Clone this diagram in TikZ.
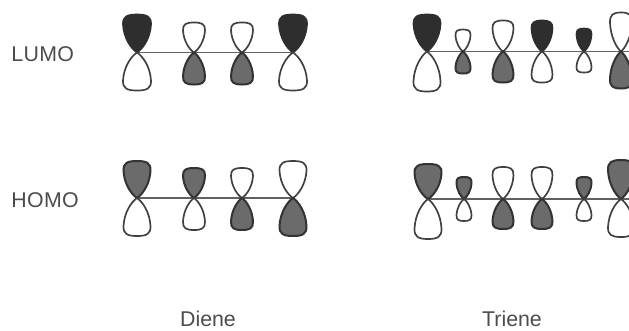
\documentclass[tikz,border=0pt]{standalone}
\usepackage{fontspec}
\setmainfont{Liberation Sans}
\colorlet{inkc}{black!75}
\tikzset{
  x=0.75pt,y=-0.75pt,
  open/.style={draw=inkc,line width=1.25pt,fill=white},
  dark/.style={draw=black!82,line width=1.25pt,fill=black!82},
  dots/.style={draw=black!80,line width=1.5pt,fill=black!58},
  axis/.style={draw=black!62,line width=1pt},
  lab/.style={font=\fontsize{16pt}{18pt}\selectfont,text=black!70,inner sep=0pt}
}
% \lobe{x}{y}{half width}{signed height}{style}
\newcommand{\lobe}[5]{%
  \draw[#5] (#1,#2)
    .. controls ({#1+0.42*#3},{#2+0.10*#4}) and ({#1+0.95*#3},{#2+0.38*#4}) .. ({#1+#3},{#2+0.74*#4})
    .. controls ({#1+1.02*#3},{#2+0.95*#4}) and ({#1+0.70*#3},{#2+#4}) .. (#1,{#2+#4})
    .. controls ({#1-0.70*#3},{#2+#4}) and ({#1-1.02*#3},{#2+0.95*#4}) .. ({#1-#3},{#2+0.74*#4})
    .. controls ({#1-0.95*#3},{#2+0.38*#4}) and ({#1-0.42*#3},{#2+0.10*#4}) .. (#1,#2) -- cycle;}
% \orb{x}{y}{hw}{up height}{down height}{up style}{down style}
\newcommand{\orb}[7]{\lobe{#1}{#2}{#3}{-#4}{#6}\lobe{#1}{#2}{#3}{#5}{#7}}
\begin{document}
\begin{tikzpicture}
\useasboundingbox (0,0) rectangle (629,330);
\clip (0,0) rectangle (629,330);
\node[lab,anchor=west] (lumo) at (11,54) {L\kern0.3pt U\kern0.3pt M\kern0.3pt O};
\node[lab,anchor=west] (homo) at (11,200) {H\kern0.3pt O\kern0.3pt M\kern0.3pt O};
\node[lab] (diene) at (208,319) {Diene};
\node[lab] (triene) at (512,319) {Triene};
% Diene LUMO
\coordinate (a1) at (137,52.5); \coordinate (a2) at (293,52.5);
\draw[axis] (a1) -- (a2);
\orb{137}{52.5}{14}{38}{38}{dark}{open}
\orb{194}{52.5}{11}{30}{32}{open}{dots}
\orb{242}{52.5}{11}{30}{32}{open}{dots}
\orb{293}{52.5}{14}{38}{38}{dark}{open}
% Diene HOMO
\coordinate (b1) at (137,198); \coordinate (b2) at (293,198);
\draw[axis] (b1) -- (b2);
\orb{137}{198}{13.5}{37}{38}{dots}{open}
\orb{194}{198}{11}{30}{32}{dots}{open}
\orb{242}{198}{11}{30}{32}{open}{dots}
\orb{293}{198}{13.5}{37}{38}{open}{dots}
% Triene LUMO
\coordinate (c1) at (427,51.5); \coordinate (c2) at (629,51.5);
\draw[axis] (c1) -- (c2);
\orb{427}{51.5}{13.5}{37}{40}{dark}{open}
\orb{463}{51.5}{7.5}{22}{22}{open}{dots}
\orb{503}{51.5}{10.5}{31}{31}{open}{dots}
\orb{542}{51.5}{10.5}{31}{31}{dark}{open}
\orb{584}{51.5}{7.5}{23}{21}{dark}{open}
\orb{621}{51.5}{11}{39}{37}{open}{dots}
% Triene HOMO
\coordinate (d1) at (428,199); \coordinate (d2) at (629,199);
\draw[axis] (d1) -- (d2);
\orb{428}{199}{13.5}{35}{40}{dots}{open}
\orb{464}{199}{7.5}{22}{22}{dots}{open}
\orb{503}{199}{10.5}{32}{30}{open}{dots}
\orb{542}{199}{10.5}{32}{30}{open}{dots}
\orb{584}{199}{7.5}{22}{22}{dots}{open}
\orb{621}{199}{13}{39}{38}{dots}{open}
\end{tikzpicture}
\end{document}
